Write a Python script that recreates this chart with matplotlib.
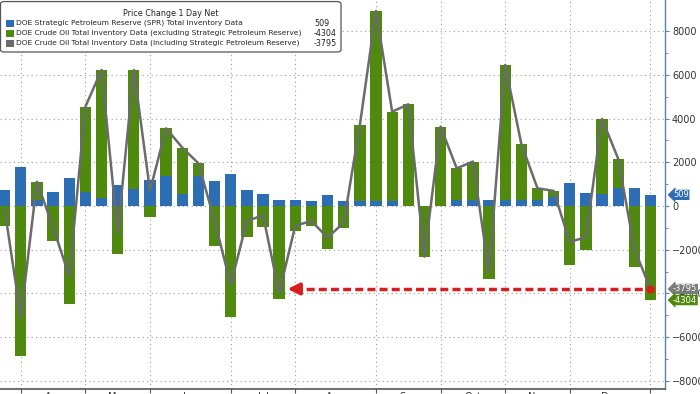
import numpy as np
import matplotlib
matplotlib.use("Agg")
import matplotlib.pyplot as plt
from matplotlib.patches import FancyBboxPatch, Rectangle
import matplotlib.transforms as mtransforms

# weekly changes, thousand barrels
spr = [730, 1770, 270, 640, 1270, 655, 350, 960, 760, 1190, 1370, 550, 1370, 1160,
       1460, 730, 530, 260, 260, 230, 500, 230, 230, 230, 230, 0, 0, 0, 270, 270,
       270, 270, 270, 270, 430, 1070, 580, 530, 840, 810, 509]
ex_spr = [-900, -6860, 840, -1620, -4480, 3890, 5870, -2195, 5460, -490, 2180, 2120,
          580, -1830, -5060, -1430, -945, -4240, -1160, -915, -1950, -990, 3470, 8690,
          4080, 4650, -2320, 3630, 1450, 1760, -3320, 6180, 2570, 540, 260, -2710,
          -2010, 3450, 1320, -2770, -4304]
month_starts = [1, 5, 9, 14, 18, 23, 27, 31, 35, 40]
month_labels = ["Apr", "May", "Jun", "Jul", "Aug", "Sep", "Oct", "Nov", "Dec"]
legend_names = ["DOE Strategic Petroleum Reserve (SPR) Total Inventory Data",
                "DOE Crude Oil Total Inventory Data (excluding Strategic Petroleum Reserve)",
                "DOE Crude Oil Total Inventory Data (including Strategic Petroleum Reserve)"]

blue = "#2c6db3"
green = "#4f8a0f"
gray = "#6b6b6b"
red = "#d81e1e"

spr = np.array(spr)
ex_spr = np.array(ex_spr)
total = spr + ex_spr
x = np.arange(len(spr))

fig = plt.figure(figsize=(7, 3.94), dpi=100)
ax = fig.add_axes([0, 5 / 394, 665 / 700, 389 / 394])

# stacked bars: green sits on top of blue when positive, below zero when negative
green_bottom = np.where(ex_spr >= 0, np.maximum(spr, 0), np.minimum(spr, 0))
ax.bar(x, spr, width=0.7, color=blue, zorder=2)
ax.bar(x, ex_spr, width=0.7, bottom=green_bottom, color=green, zorder=2)
ax.plot(x, total, color=gray, lw=1.8, zorder=3)

ax.set_xlim(-0.29, 40.9)
ax.set_ylim(-8370, 9420)

# grid
for xm in month_starts:
    ax.axvline(xm, color="#9a9a9a", lw=0.8, ls=(0, (1, 3)), zorder=1)
for yv in range(-8000, 8001, 2000):
    ax.axhline(yv, color="#9a9a9a", lw=0.8, ls=(0, (1, 3)), zorder=1)

# axes styling
for s in ["left", "top"]:
    ax.spines[s].set_visible(False)
ax.spines["bottom"].set_color("#555555")
ax.spines["bottom"].set_linewidth(1.2)
ax.spines["right"].set_color("#5b80aa")
ax.spines["right"].set_linewidth(1.0)
ax.yaxis.tick_right()
ax.set_yticks(range(-8000, 8001, 2000))
ax.set_yticks(range(-8000, 8001, 1000), minor=True)
ax.tick_params(axis="y", which="major", length=3, width=0.8, color="#5b80aa",
               labelsize=7, labelcolor="#333333", pad=2)
ax.tick_params(axis="y", which="minor", length=2, width=0.6, color="#5b80aa")
ax.set_xticks(month_starts)
ax.set_xticklabels([])
mids = [(a + b) / 2 for a, b in zip(month_starts[:-1], month_starts[1:])]
ax.set_xticks(mids, minor=True)
ax.set_xticklabels(month_labels, minor=True)
ax.tick_params(axis="x", which="major", length=3, color="#555555")
ax.tick_params(axis="x", which="minor", length=0, labelsize=7, pad=2.5, labelcolor="#333333")

# red dashed arrow
y_ref = total[-1]
ax.plot([17.9, 40], [y_ref, y_ref], color=red, lw=2.5, ls=(0, (2.3, 1.2)), zorder=4)
ax.annotate("", xy=(17.35, y_ref), xytext=(18.2, y_ref),
            arrowprops=dict(arrowstyle="-|>,head_width=0.35,head_length=0.7",
                            color=red, lw=2.5), zorder=4)
ax.plot([40], [y_ref], "o", color=red, ms=5, zorder=5)

# value tags on the right axis
trans = mtransforms.blended_transform_factory(ax.transAxes, ax.transData)
for val, col in [(spr[-1], blue), (total[-1], "#7a7a7a"), (ex_spr[-1], green)]:
    ax.text(1.012, val, f"{val}", transform=trans, fontsize=6.0, color="white",
            va="center", ha="left", clip_on=False, zorder=6,
            bbox=dict(boxstyle="larrow,pad=0.08", fc=col, ec="none"))

# legend box
def ax_xy(px, py):
    return px / 665, 1 - py / 389

bx, by = ax_xy(0.5, 52)
bw = 340.5 / 665
bh = 52 / 389
ax.add_patch(FancyBboxPatch((bx, by), bw, bh - 0.004, transform=ax.transAxes,
                            boxstyle="round,pad=0,rounding_size=0.006",
                            fc="white", ec="#555555", lw=0.9, zorder=7, clip_on=False))
fs = 5.4
tx, ty = ax_xy(170.5, 13)
ax.text(tx, ty, "Price Change 1 Day Net", transform=ax.transAxes, fontsize=5.8,
        ha="center", va="center", color="#222222", zorder=8)
legend_vals = [spr[-1], ex_spr[-1], total[-1]]
for i, (name, val, col) in enumerate(zip(legend_names, legend_vals, [blue, green, "#6b6b6b"])):
    py = 23 + 10 * i
    sx, sy = ax_xy(6, py + 3.5)
    ax.add_patch(Rectangle((sx, sy), 7.5 / 665, 7 / 389, transform=ax.transAxes,
                           fc=col, ec="none", zorder=8))
    lx, ly = ax_xy(16.5, py)
    ax.text(lx, ly, name, transform=ax.transAxes, fontsize=fs, ha="left",
            va="center", color="#222222", zorder=8)
    vx, vy = ax_xy(314, py)
    ax.text(vx, vy, f"{val}", transform=ax.transAxes, fontsize=5.8, ha="left",
            va="center", color="#222222", zorder=8)

fig.savefig("out.png", dpi=100)
